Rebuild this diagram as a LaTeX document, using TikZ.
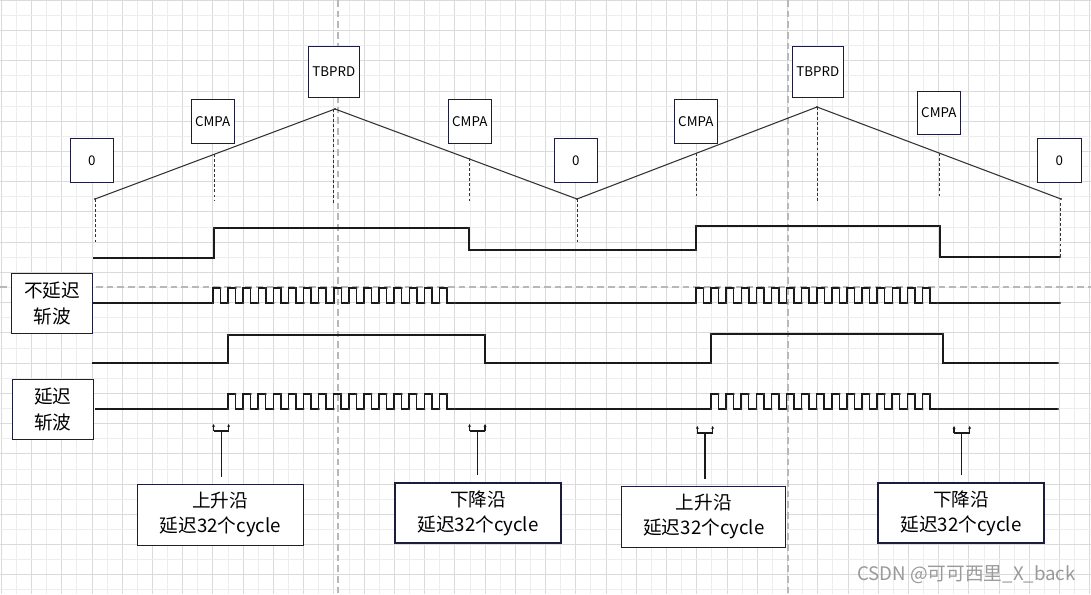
\documentclass[tikz,border=0pt]{standalone}
\usepackage{fontspec}
\setmainfont{Noto Sans CJK SC}
\usetikzlibrary{arrows.meta,calc}
\definecolor{gridmaj}{HTML}{DADADA}
\definecolor{gridmin}{HTML}{EDEDED}
\definecolor{pagebr}{HTML}{B8B8B8}
\definecolor{boxc}{HTML}{1C1C3C}
\definecolor{wavec}{HTML}{1A1A1A}
\definecolor{tric}{HTML}{333333}
\definecolor{wmark}{HTML}{9A9A9A}
\tikzset{
  gmaj/.style={draw=gridmaj, line width=0.75pt},
  gmin/.style={draw=gridmin, line width=0.75pt},
  pagebreak/.style={draw=pagebr, line width=0.8pt, dash pattern=on 5pt off 3pt},
  tbox/.style={draw=boxc, line width=0.85pt, fill=white, inner sep=0pt, font=\fontsize{10}{12}\selectfont},
  lbox/.style={draw=boxc, line width=0.85pt, fill=white, inner sep=0pt, align=center, font=\fontsize{14}{19.5}\selectfont},
  bbox/.style={draw=boxc, line width=0.85pt, fill=white, inner sep=0pt, align=center, font=\fontsize{14}{18.8}\selectfont},
  wave/.style={draw=wavec, line width=1.1pt},
  tri/.style={draw=tric, line width=0.8pt},
  guide/.style={draw=tric, line width=0.7pt, dash pattern=on 2.2pt off 1.6pt},
  bracket/.style={draw=wavec, line width=0.9pt},
  stem/.style={draw=wavec, line width=0.9pt},
  tinyarrow/.style={-{Stealth[length=2.2pt,width=2.2pt]}},
  pt/.style={fill=tric, circle, inner sep=0pt, minimum size=1.8pt}
}
\begin{document}
\begin{tikzpicture}[x=0.75pt,y=-0.75pt]
\useasboundingbox (0,0) rectangle (1091,594);
\fill[white] (0,0) rectangle (1091,594);
% grid
\foreach \i in {0,...,72}{
  \pgfmathsetmacro\gx{1.3+15.12*\i}
  \ifodd\i \draw[gmin] (\gx,0) -- (\gx,594); \else \draw[gmaj] (\gx,0) -- (\gx,594); \fi
}
\foreach \j in {0,...,39}{
  \pgfmathsetmacro\gy{0.3+15.12*\j}
  \ifodd\j \draw[gmin] (0,\gy) -- (1091,\gy); \else \draw[gmaj] (0,\gy) -- (1091,\gy); \fi
}
% page break lines
\draw[pagebreak] (338,0) -- (338,594);
\draw[pagebreak] (788,0) -- (788,594);
\draw[pagebreak] (0,287) -- (1091,287);

% triangle carrier
\draw[tri] (95,199) -- (335,109) -- (577,199) -- (817,107) -- (1061,199);
\foreach \p in {(95,199),(335,109),(577,199),(817,107),(1061,199)} \node[pt] at \p {};

% guide lines
\draw[guide] (95,199) -- (95,243);
\draw[guide] (214,154) -- (214,200);
\draw[guide] (333,109) -- (333,204);
\draw[guide] (469,158) -- (469,203);
\draw[guide] (577,199) -- (577,242);
\draw[guide] (696,153) -- (696,198);
\draw[guide] (817,107) -- (817,201);
\draw[guide] (939,153) -- (939,197);
\draw[guide] (1060,203) -- (1060,257);

% top labels
\node[tbox, minimum width=32.25pt, minimum height=33pt] (z1) at (91.8,160.3) {0};
\node[tbox, minimum width=32.25pt, minimum height=33pt] (c1) at (212.7,121.3) {CMPA};
\node[tbox, minimum width=38.25pt, minimum height=38.25pt] (t1) at (333.8,71.7) {TBPRD};
\node[tbox, minimum width=32.25pt, minimum height=33pt] (c2) at (469.8,121.3) {CMPA};
\node[tbox, minimum width=32.25pt, minimum height=33pt] (z2) at (575.8,160.3) {0};
\node[tbox, minimum width=32.25pt, minimum height=33pt] (c3) at (695.8,121.3) {CMPA};
\node[tbox, minimum width=38.25pt, minimum height=38.25pt] (t2) at (817.8,71.7) {TBPRD};
\node[tbox, minimum width=32.25pt, minimum height=32pt] (c4) at (938.8,113) {CMPA};
\node[tbox, minimum width=33pt, minimum height=33pt] (z3) at (1059.3,160.5) {0};

% PWM (not delayed)
\draw[wave] (93,258) -- (214,258) -- (214,228) -- (469,228) -- (469,250) -- (696,250) -- (696,226) -- (940,226) -- (940,257) -- (1060,257);
\foreach \p in {(214,228),(469,228),(696,250),(696,226),(940,226),(1060,257)} \node[pt] at \p {};

% chopped, not delayed
\draw[wave] (93,303) -- (213,303)
  foreach \k in {1,...,16}{ -- ++(0,-15) -- ++(7.5,0) -- ++(0,15) -- ++(7.6,0) }
  -- (696,303)
  foreach \k in {1,...,16}{ -- ++(0,-15) -- ++(7.5,0) -- ++(0,15) -- ++(7.6,0) }
  -- (1060,303);
\foreach \k in {0,...,15}{
  \pgfmathsetmacro\xa{213+15.1*\k}\pgfmathsetmacro\xb{696+15.1*\k}
  \node[pt] at (\xa,303) {}; \node[pt] at (\xa+7.5,288) {};
  \node[pt] at (\xb,303) {}; \node[pt] at (\xb+7.5,288) {};
}
\node[pt] at (454.6,303) {}; \node[pt] at (937.6,303) {}; \node[pt] at (1060,303) {};

% PWM delayed
\draw[wave] (92,363) -- (228,363) -- (228,335) -- (485,335) -- (485,363) -- (711,363) -- (711,334) -- (943,334) -- (943,363) -- (1058,363);
\foreach \p in {(228,363),(228,335),(485,335),(711,363),(711,334),(943,334),(1058,363)} \node[pt] at \p {};

% chopped, delayed
\draw[wave] (95,409) -- (228,409)
  foreach \k in {1,...,15}{ -- ++(0,-15) -- ++(7.5,0) -- ++(0,15) -- ++(7.6,0) }
  -- (711,409)
  foreach \k in {1,...,15}{ -- ++(0,-15) -- ++(7.5,0) -- ++(0,15) -- ++(7.6,0) }
  -- (1058,409);
\foreach \k in {0,...,14}{
  \pgfmathsetmacro\xa{228+15.1*\k}\pgfmathsetmacro\xb{711+15.1*\k}
  \node[pt] at (\xa,409) {}; \node[pt] at (\xa+7.5,394) {};
  \node[pt] at (\xb,409) {}; \node[pt] at (\xb+7.5,394) {};
}
\node[pt] at (454.5,409) {}; \node[pt] at (937.5,409) {}; \node[pt] at (1058,409) {};

% left labels
\node[lbox, minimum width=60.5pt, minimum height=45pt] (l1) at (52,303.3) {不延迟\\斩波};
\node[lbox, minimum width=60.75pt, minimum height=45.2pt] (l2) at (52.8,409.2) {延迟\\斩波};

% bottom labels
\node[bbox, minimum width=124.5pt, minimum height=45.75pt] (b1) at (220.3,514.8) {上升沿\\延迟32个cycle};
\node[bbox, minimum width=124.5pt, minimum height=45pt] (b2) at (478,513) {下降沿\\延迟32个cycle};
\node[bbox, minimum width=123pt, minimum height=45.75pt] (b3) at (703.9,516.7) {上升沿\\延迟32个cycle};
\node[bbox, minimum width=124.5pt, minimum height=45pt] (b4) at (961,513) {下降沿\\延迟32个cycle};

% delay brackets
\foreach \n/\xl/\xr/\yb in {1/213.5/228.7/431, 2/469.5/485/431, 3/697.3/712.7/433, 4/954/969.7/433}{
  \coordinate (bl\n) at (\xl,\yb);
  \coordinate (br\n) at (\xr,\yb);
  \coordinate (bm\n) at ({(\xl+\xr)/2},\yb);
  \draw[bracket] (bl\n) -- (br\n);
  \draw[bracket, tinyarrow] (bl\n) -- ++(0,-7);
  \draw[bracket, tinyarrow] (br\n) -- ++(0,-7);
}
\draw[stem, shorten >=5.25pt] (bm1) -- (bm1 |- b1.north);
\draw[stem, shorten >=5.25pt] (bm2) -- (bm2 |- b2.north);
\draw[stem, shorten >=5.25pt] (bm3) -- (bm3 |- b3.north);
\draw[stem, shorten >=5.25pt] (bm4) -- (bm4 |- b4.north);

% watermark
\node[text=wmark, anchor=east, inner sep=0pt, font=\fontsize{14}{16}\selectfont] (wm) at (1076,575) {CSDN @可可西里\_X\_back};
\end{tikzpicture}
\end{document}
